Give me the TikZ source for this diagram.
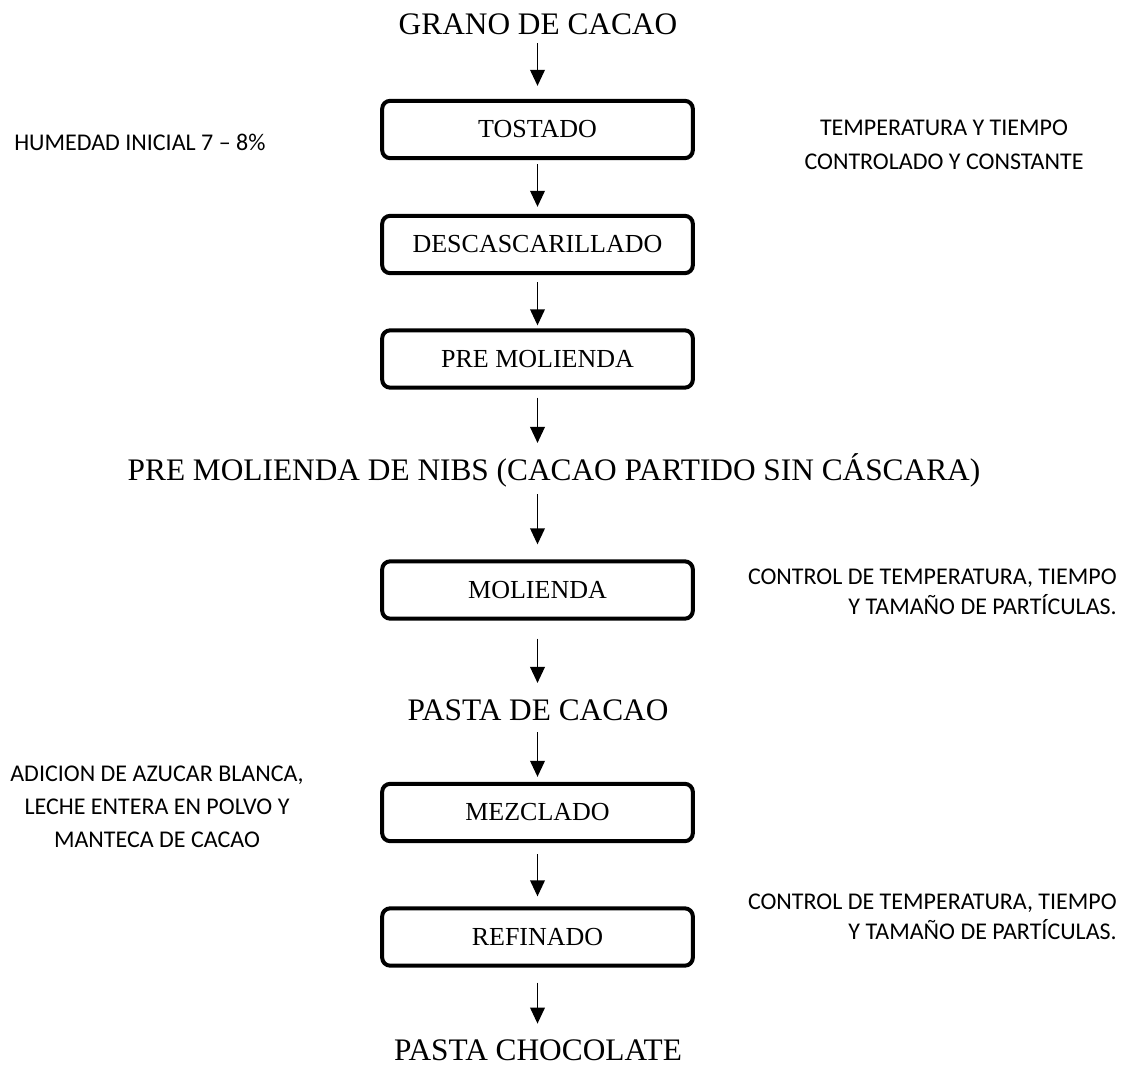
\documentclass[tikz,border=0pt]{standalone}
\usepackage{fontspec}
\setmainfont{Liberation Serif}
\newfontfamily\calib{Carlito}
\usetikzlibrary{arrows.meta}
\newcommand\flowarr[4]{\draw[arr, shorten <=#3pt, shorten >=#4pt] (#1.south -| col) -- (#2.north -| col);}
\begin{document}
\begin{tikzpicture}[x=0.75pt,y=-0.75pt,
  stepbox/.style={draw, line width=3pt, rounded corners=6pt, minimum width=233pt, minimum height=43pt, inner sep=0pt, font=\fontsize{19.5}{23}\selectfont},
  bigtext/.style={inner sep=0pt, text height=15.6pt, text depth=0pt, font=\fontsize{23.5}{28}\selectfont, anchor=base},
  note/.style={inner sep=0pt, font=\calib\fontsize{18}{24}\selectfont},
  arr/.style={-{Triangle[width=11pt,length=12pt]}, line width=1.1pt}]
\useasboundingbox (0,0) rectangle (1126,1066);
\coordinate (col) at (537.5,0);
% main flow
\node[bigtext] (grano) at (538,35) {GRANO DE CACAO};
\node[stepbox] (tost) at (537.5,129.5) {TOSTADO};
\node[stepbox] (desc) at (537.5,244.5) {DESCASCARILLADO};
\node[stepbox] (pre) at (537.5,359) {PRE MOLIENDA};
\node[bigtext] (nibs) at (554,480) {PRE MOLIENDA DE NIBS (CACAO PARTIDO SIN CÁSCARA)};
\node[stepbox] (mol) at (537.5,590) {MOLIENDA};
\node[bigtext] (pcac) at (538,720) {PASTA DE CACAO};
\node[stepbox] (mez) at (537.5,812.5) {MEZCLADO};
\node[stepbox] (ref) at (537.5,937) {REFINADO};
\node[bigtext] (pchoc) at (538,1060) {PASTA CHOCOLATE};
% arrows
\flowarr{grano}{tost}{6}{9.75}
\flowarr{tost}{desc}{3}{5.25}
\flowarr{desc}{pre}{5.25}{2.25}
\flowarr{pre}{nibs}{6}{12}
\flowarr{nibs}{mol}{10.5}{11.25}
\flowarr{mol}{pcac}{13.5}{12}
\flowarr{pcac}{mez}{9}{3.75}
\flowarr{mez}{ref}{8.25}{7.5}
\flowarr{ref}{pchoc}{11.25}{11.5}
% notes
\node[note, anchor=west] (hum) at (14,142.5) {HUMEDAD INICIAL 7 – 8\%};
\node[note, align=center, font=\calib\fontsize{18}{25.5}\selectfont] (temp) at (944,145) {TEMPERATURA Y TIEMPO\\CONTROLADO Y CONSTANTE};
\node[note, align=right, anchor=east, font=\calib\fontsize{18}{22.5}\selectfont] (ctla) at (1117,591.5) {CONTROL DE TEMPERATURA, TIEMPO\\Y TAMAÑO DE PARTÍCULAS.};
\node[note, align=right, anchor=east, font=\calib\fontsize{18}{22.5}\selectfont] (ctlb) at (1117,917) {CONTROL DE TEMPERATURA, TIEMPO\\Y TAMAÑO DE PARTÍCULAS.};
\node[note, align=center, font=\calib\fontsize{18}{24.75}\selectfont] (adic) at (157,806.5) {ADICION DE AZUCAR BLANCA,\\LECHE ENTERA EN POLVO Y\\MANTECA DE CACAO};
\end{tikzpicture}
\end{document}
